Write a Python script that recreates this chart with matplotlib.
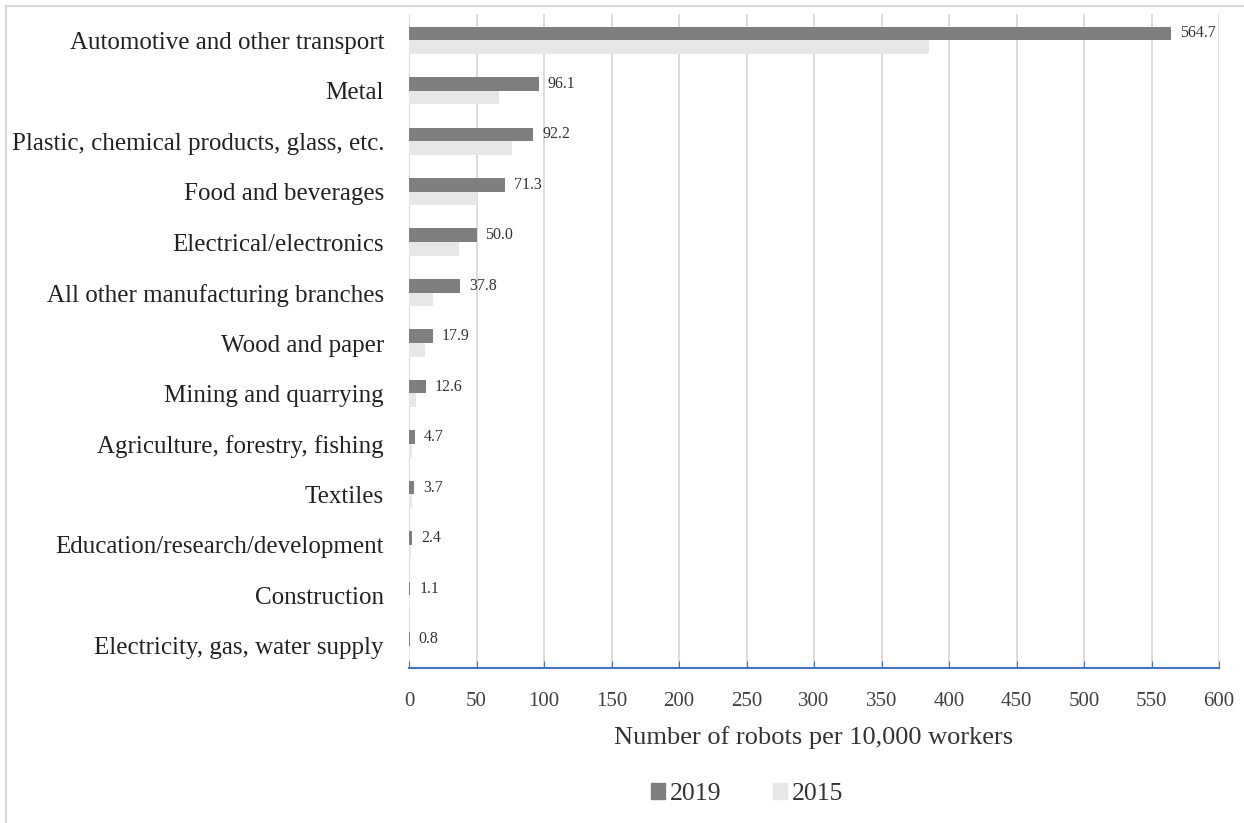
import matplotlib.pyplot as plt
import numpy as np
from matplotlib.lines import Line2D

categories = ['Automotive and other transport', 'Metal',
              'Plastic, chemical products, glass, etc.', 'Food and beverages',
              'Electrical/electronics', 'All other manufacturing branches',
              'Wood and paper', 'Mining and quarrying',
              'Agriculture, forestry, fishing', 'Textiles',
              'Education/research/development', 'Construction',
              'Electricity, gas, water supply']
values_2019 = [564.7, 96.1, 92.2, 71.3, 50.0, 37.8, 17.9, 12.6, 4.7, 3.7, 2.4, 1.1, 0.8]
values_2015 = [385, 67, 76, 50, 37, 18, 12, 5, 2.5, 2, 1.2, 0.8, 0.5]
xticks = list(range(0, 601, 50))

plt.rcParams['font.family'] = ['Liberation Serif', 'DejaVu Serif']

fig = plt.figure(figsize=(12.44, 8.23), dpi=100)
ax = fig.add_axes([409 / 1244, 1 - 668 / 823, 810 / 1244, 654 / 823])

y = np.arange(len(categories))
h = 0.27
ax.barh(y - h / 2, values_2019, height=h, color='#7f7f7f', label='2019', zorder=3)
ax.barh(y + h / 2, values_2015, height=h, color='#e7e7e7', label='2015', zorder=3)

# value labels for 2019
for yi, v in zip(y, values_2019):
    ax.text(v + 6.5, yi - h / 2, '%.1f' % v, va='center', ha='left',
            fontsize=11.5, color='#333333')

ax.set_xlim(0, 600)
ax.set_ylim(len(categories) - 0.56, -0.52)
ax.set_xticks(xticks)
ax.set_yticks(y)
ax.set_yticklabels(categories, fontsize=18, color='#222222')
ax.tick_params(axis='y', length=0, pad=18)
ax.tick_params(axis='x', direction='in', length=5, color='#4472c4',
               labelsize=15, labelcolor='#404040', pad=17)

ax.grid(axis='x', color='#d9d9d9', linewidth=1.3, zorder=0)
for s in ['top', 'right', 'left']:
    ax.spines[s].set_visible(False)
ax.spines['bottom'].set_color('#4472c4')
ax.spines['bottom'].set_linewidth(1.5)

ax.set_xlabel('Number of robots per 10,000 workers', fontsize=19,
              color='#333333', labelpad=11)

handles = [plt.Rectangle((0, 0), 1, 1, color='#7f7f7f'),
           plt.Rectangle((0, 0), 1, 1, color='#e7e7e7')]
fig.legend(handles, ['2019', '2015'], loc='center', ncol=2,
           bbox_to_anchor=(747 / 1244, 1 - 794 / 823), frameon=False,
           fontsize=18.5, handlelength=0.55, handleheight=0.55,
           handletextpad=0.2, columnspacing=2.0, labelcolor='#333333')

# light outer frame
fig.add_artist(Line2D([6 / 1244, 6 / 1244], [0, 1 - 6 / 823],
                      transform=fig.transFigure, color='#d9d9d9', lw=1.5))
fig.add_artist(Line2D([6 / 1244, 1], [1 - 6 / 823, 1 - 6 / 823],
                      transform=fig.transFigure, color='#d9d9d9', lw=1.5))

fig.savefig('out.png', dpi=100)
